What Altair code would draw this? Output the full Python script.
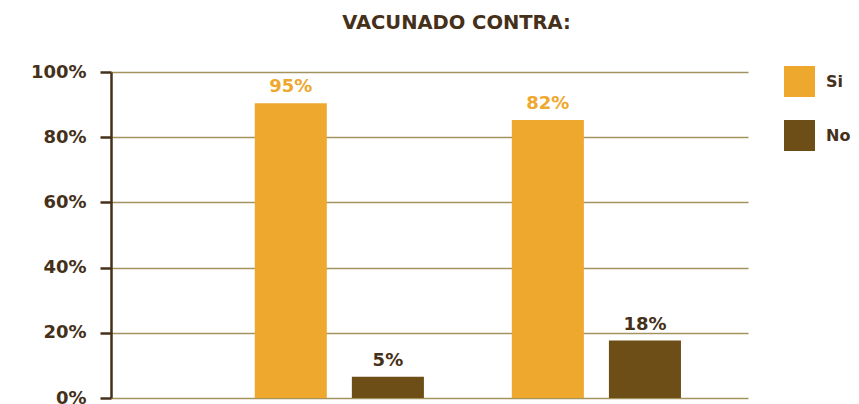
import altair as alt
import pandas as pd

grupos = ["Grupo 1", "Grupo 1", "Grupo 2", "Grupo 2"]
series = ["Si", "No", "Si", "No"]
valores = [90.4, 6.5, 85.3, 17.6]
etiquetas = ["95%", "5%", "82%", "18%"]
y_ticks = [0, 20, 40, 60, 80, 100]

df = pd.DataFrame({"grupo": grupos, "serie": series, "valor": valores, "etiqueta": etiquetas})

ORANGE = "#eea82e"
BROWN = "#6c4e16"
DARK = "#45301a"
FONT = "DejaVu Sans"

x_enc = alt.X("grupo:N", axis=None,
              scale=alt.Scale(paddingInner=0.342, paddingOuter=0.41, align=0.682))
xo_enc = alt.XOffset("serie:N", sort=["Si", "No"],
                     scale=alt.Scale(paddingInner=0.258, paddingOuter=0))
y_enc = alt.Y("valor:Q",
              scale=alt.Scale(domain=[0, 100], nice=False),
              axis=alt.Axis(values=y_ticks, title=None,
                            labelExpr="datum.value + '%'",
                            labelFont=FONT, labelFontSize=18, labelFontWeight="bold",
                            labelColor=DARK, labelPadding=14,
                            tickSize=11, tickWidth=2.5, tickColor=DARK,
                            domainColor=DARK, domainWidth=2.5,
                            grid=True, gridColor="#a3935f", gridWidth=1.5))

bars = alt.Chart(df).mark_bar().encode(
    x=x_enc,
    xOffset=xo_enc,
    y=y_enc,
    color=alt.Color("serie:N", sort=["Si", "No"],
                    scale=alt.Scale(domain=["Si", "No"], range=[ORANGE, BROWN]),
                    legend=alt.Legend(title=None, orient="none", legendX=673, legendY=-6,
                                      symbolType="square", symbolSize=961,
                                      symbolStrokeWidth=0, symbolOpacity=1,
                                      labelFont=FONT, labelFontSize=16,
                                      labelFontWeight="bold", labelColor=DARK,
                                      labelOffset=11, rowPadding=23)),
)

text = alt.Chart(df).mark_text(font=FONT, fontSize=18, fontWeight="bold",
                               baseline="alphabetic", dy=-11).encode(
    x=x_enc,
    xOffset=xo_enc,
    y=alt.Y("valor:Q"),
    text="etiqueta:N",
    color=alt.condition(alt.datum.serie == "Si", alt.value(ORANGE), alt.value(DARK)),
)

chart = alt.layer(bars, text).properties(
    width=637, height=326,
    title=alt.TitleParams("VACUNADO CONTRA:", font=FONT, fontSize=19.5, fontWeight="bold",
                          color=DARK, anchor="middle", dx=27, offset=30),
    autosize=alt.AutoSizeParams(type="none"),
    padding={"left": 103, "top": 64, "right": 103, "bottom": 6},
).configure_view(stroke=None)

chart.save("out.html", embed_options={"renderer": "svg", "actions": False})
